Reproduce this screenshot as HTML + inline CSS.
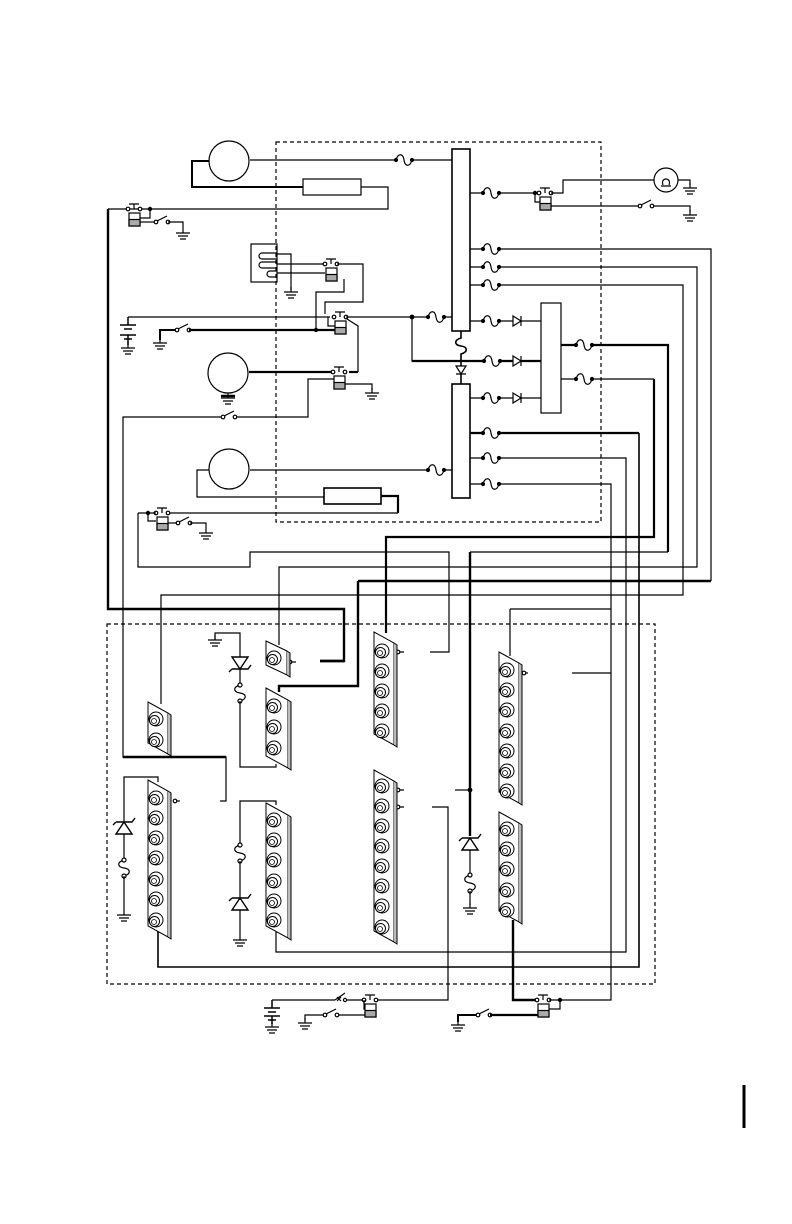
<!DOCTYPE html>
<html><head><meta charset="utf-8"><style>html,body{margin:0;padding:0;background:#fff}svg{display:block}</style></head>
<body>
<svg width="792" height="1224" viewBox="0 0 792 1224" xmlns="http://www.w3.org/2000/svg" fill="none" stroke="#000" stroke-width="1.2">
<defs>
<g id="hole"><circle r="7" fill="#fff"/><circle cx="-1.5" cy="1.5" r="5" fill="#fff"/><circle cx="-2" cy="2" r="2.5" fill="#fff" stroke-width="0.8"/></g>
<g id="fuse"><path d="M0,0 c2,-7 7,-7 8,0 s6,7 8,0"/><circle cx="0" cy="0" r="1.5" fill="#000"/><circle cx="16" cy="0" r="1.5" fill="#000"/></g>
<g id="relay"><circle cx="-6" cy="0" r="1.8" fill="#fff"/><circle cx="6" cy="0" r="1.8" fill="#fff"/><path d="M-5,-5 H5 M0,-5 V0"/><rect x="-5" y="4" width="11" height="13" fill="#fff"/><rect x="-5" y="10.5" width="11" height="6.5" fill="#aaa"/></g>
<g id="gnd"><path d="M0,0 V5 M-7,5 H7 M-5,8 H5 M-3,11 H3"/></g>
<g id="diode"><path d="M0,-5 L8,0 L0,5 Z M8,-5 V5" fill="#fff"/></g>
<g id="tvsD"><path d="M-8,-12 H8 L0,0 Z" fill="#fff" stroke-width="1.4"/><path d="M-8,0 H8 l3,-4 M-8,0 l-3,3" stroke-width="1.4"/></g>
<g id="tvsU"><path d="M-8,0 H8 L0,-12 Z" fill="#fff" stroke-width="1.4"/><path d="M-8,-12 H8 l3,-4 M-8,-12 l-3,3" stroke-width="1.4"/></g>
<g id="fusev"><path d="M0,0 c-7,2 -7,7 0,8 s7,6 0,8"/><circle cx="0" cy="0" r="2" fill="#fff"/><circle cx="0" cy="16" r="2" fill="#fff"/></g>
<g id="sw"><circle cx="0" cy="0" r="1.8" fill="#fff"/><circle cx="12" cy="0" r="1.8" fill="#fff"/><path d="M1,-1 L11,-6"/></g>
</defs>

<rect x="276" y="142" width="325" height="380" stroke-dasharray="4,3"/>
<rect x="107" y="624" width="548" height="360" stroke-dasharray="4,3"/>

<rect x="452" y="149" width="18" height="182" fill="#fff" stroke-width="1.6"/>
<rect x="452" y="384" width="18" height="114" fill="#fff" stroke-width="1.6"/>
<rect x="541" y="303" width="20" height="110" fill="#fff"/>

<circle cx="229" cy="161" r="20"/>
<path d="M250,160 H396 M412,160 H452"/><use href="#fuse" x="396" y="160"/>
<path d="M209,161 H192 V187 H303" stroke-width="2"/>
<rect x="303" y="179" width="58" height="16"/>
<path d="M361,187 H388 V209 H108"/>
<path d="M108,209 V609 H344 V661 H320" stroke-width="2.4"/>
<use href="#relay" x="134" y="209"/>
<circle cx="150" cy="209" r="1.6" fill="#000"/><path d="M150,209 V218 H140"/>
<path d="M140,222 H156"/><use href="#sw" x="156" y="222"/><path d="M168,222 H183 V228"/><use href="#gnd" x="183" y="228"/>

<rect x="251" y="244" width="26" height="38"/>
<path d="M277,253 H262 a3,3 0 0 0 0,6 H277 M277,262 H262 a3,3 0 0 0 0,6 H277 M277,271 H270 a3,3 0 0 0 0,6 H277"/>
<path d="M277,254 H291 V282 M277,264 H325 M277,273 H325 M291,254 V290"/>
<use href="#gnd" x="291" y="287"/>
<use href="#relay" x="331" y="264"/>
<path d="M337,264 H363 V302 H325 V314"/>
<path d="M344,279 V292 H316 V330"/>

<path d="M128,317 H330"/>
<path d="M120,325 H136 M124,329 H132 M128,317 V325 M128,335 V345 M120,335 H136 M124,339 H132" stroke-width="1.5"/>
<use href="#gnd" x="128" y="343"/>
<use href="#relay" x="340" y="317"/>
<path d="M328,317 V326 H335"/>
<path d="M160,340 V330 H177" stroke-width="2"/><use href="#gnd" x="160" y="338"/>
<use href="#sw" x="177" y="330"/>
<path d="M189,330 H335" stroke-width="2.2"/><circle cx="316" cy="330" r="1.6" fill="#000"/>
<path d="M346,317 H412 V361 H452 M412,317 H428 M444,317 H452"/>
<circle cx="412" cy="317" r="1.8" fill="#000"/><use href="#fuse" x="428" y="317"/>
<path d="M347,319 L358,326 V372" />
<path d="M249,372 H333" stroke-width="2.2"/><path d="M349,372 H358" stroke-width="2.2"/>
<path d="M412,361 H484" stroke-width="2.2"/>

<circle cx="228" cy="373" r="20"/>
<use href="#gnd" x="228" y="393"/><path d="M221,396 H235" stroke-width="2.5"/>
<use href="#relay" x="339" y="372"/>
<path d="M345,384 H372 V390"/><use href="#gnd" x="372" y="388"/>
<path d="M334,379 H308 V417 H236 M222,417 H123 V757 H226 V801 H220"/>
<use href="#sw" x="223" y="417"/>
<path d="M123,757 H226" stroke-width="2.4"/>

<circle cx="229" cy="469" r="20"/>
<path d="M250,470 H428 M444,470 H452"/><use href="#fuse" x="428" y="470"/>
<path d="M209,470 H197 V497 H324"/>
<rect x="324" y="488" width="57" height="16" fill="#fff" stroke-width="1.6"/>
<path d="M381,496 H398 V513" stroke-width="2.2"/>
<path d="M398,513 H166"/>
<use href="#relay" x="162" y="513"/>
<circle cx="148" cy="513" r="1.6" fill="#000"/>
<path d="M148,513 H156 M148,513 V521 H156 M138,513 H148 M138,513 V567 H250 V552 H449 V652 H430"/>
<path d="M168,523 H178"/><use href="#sw" x="178" y="523"/><path d="M190,523 H206 V528"/><use href="#gnd" x="206" y="528"/>

<path d="M470,193 H483 M499,193 H535"/><use href="#fuse" x="483" y="193"/>
<use href="#relay" x="545" y="193"/>
<circle cx="535" cy="193" r="1.6" fill="#000"/>
<path d="M535,193 V202 H540 M551,193 H563 V180 H654 M678,180 H690 V185"/>
<circle cx="666" cy="180" r="12"/><path d="M661,186 H671 M663,185 c-3,-8 9,-8 6,0"/>
<use href="#gnd" x="690" y="183"/>
<path d="M551,206 H640 M652,206 H690 V212"/><use href="#sw" x="640" y="206"/><use href="#gnd" x="690" y="210"/>

<path d="M470,249 H483 M499,249 H711 V581"/><use href="#fuse" x="483" y="249"/>
<path d="M470,267 H483 M499,267 H697 V567 H279 V645"/><use href="#fuse" x="483" y="267"/>
<path d="M470,285 H483 M499,285 H683 V595 H161 V704"/><use href="#fuse" x="483" y="285"/>
<path d="M470,321 H483 M499,321 H513 M521,321 H541"/><use href="#fuse" x="483" y="321"/><use href="#diode" x="513" y="321"/>
<use href="#fuse" x="484" y="361"/><path d="M500,361 H513 M521,361 H541" stroke-width="2.2"/><use href="#diode" x="513" y="361"/>
<path d="M470,398 H483 M499,398 H513 M521,398 H541"/><use href="#fuse" x="483" y="398"/><use href="#diode" x="513" y="398"/>

<path d="M461,331 V338 c-7,2 -7,7 0,8 s7,6 0,8 V384" stroke-width="1.6"/>
<path d="M456,366 H466 L461,374 Z M456,374 H466" fill="#fff"/>

<path d="M561,345 H576 M592,345 H668 V552" stroke-width="2.2"/><use href="#fuse" x="576" y="345"/>
<path d="M561,379 H576 M592,379 H654"/><use href="#fuse" x="576" y="379"/>
<path d="M654,379 V537 H386 V633" stroke-width="2.2"/>
<path d="M470,552 H668"/>
<path d="M470,552 V790 M470,790 V836" stroke-width="2.4"/>

<path d="M470,433 H483 M499,433 H639" stroke-width="2.2"/><use href="#fuse" x="483" y="433"/>
<path d="M639,433 V967 H158 V928" stroke-width="1.6"/>
<path d="M470,458 H483 M499,458 H626 V952 H276 V928"/><use href="#fuse" x="483" y="458"/>
<path d="M470,484 H483 M499,484 H611 V1000 H560"/><use href="#fuse" x="483" y="484"/>
<path d="M510,609 H611 M510,609 V656"/>
<path d="M572,673 H611"/>

<path d="M358,581 H711 M358,581 V686 H279 V692" stroke-width="2.4"/>

<path d="M290,662 H296"/><circle cx="290" cy="662" r="1.8" fill="#fff"/>
<path d="M320,661 H344" stroke-width="2.6"/>
<path d="M398,652 H404 M397,790 H404 M397,807 H404"/><circle cx="398" cy="652" r="1.8" fill="#fff"/><circle cx="398" cy="790" r="1.8" fill="#fff"/><circle cx="398" cy="807" r="1.8" fill="#fff"/>
<path d="M455,790 H470"/><circle cx="470" cy="790" r="1.8" fill="#000"/>
<path d="M432,807 H448 V1000 H378"/>
<path d="M524,673 H528"/><circle cx="524" cy="673" r="1.8" fill="#fff"/>
<path d="M175,801 H180"/><circle cx="175" cy="801" r="1.8" fill="#fff"/>

<path d="M215,640 V633 H240 V657"/><use href="#gnd" x="215" y="635"/>
<use href="#tvsD" x="240" y="669"/><path d="M240,669 V685"/>
<use href="#fusev" x="240" y="685"/><path d="M240,701 V767 H276 V764"/>

<path d="M158,782 V777 H124 V822"/><use href="#tvsU" x="124" y="834"/><path d="M124,834 V860"/>
<use href="#fusev" x="124" y="860"/><path d="M124,876 V910"/><use href="#gnd" x="124" y="910"/>

<path d="M276,805 V801 H240 V845"/><use href="#fusev" x="240" y="845"/><path d="M240,861 V898"/>
<use href="#tvsU" x="240" y="910"/><path d="M240,910 V935"/><use href="#gnd" x="240" y="935"/>

<use href="#tvsU" x="470" y="850"/><path d="M470,850 V875"/><use href="#fusev" x="470" y="875"/><path d="M470,891 V905"/><use href="#gnd" x="470" y="903"/>

<g stroke-width="1">
<path d="M266,641 L287,651 L287,675 L266,665 Z" fill="#fff"/><path d="M287,651 L290,653 L290,677 L287,675" fill="#bbb"/>
<use href="#hole" x="274" y="658"/>
<path d="M266,688 L288,700 L288,768 L266,756 Z" fill="#fff"/><path d="M288,700 L291,702 L291,770 L288,768" fill="#bbb"/>
<use href="#hole" x="274" y="706"/><use href="#hole" x="274" y="727"/><use href="#hole" x="274" y="748"/>
<path d="M374,632 L394,643 L394,745 L374,734 Z" fill="#fff"/><path d="M394,643 L397,645 L397,747 L394,745" fill="#bbb"/>
<use href="#hole" x="382" y="651"/><use href="#hole" x="382" y="671"/><use href="#hole" x="382" y="691"/><use href="#hole" x="382" y="711"/><use href="#hole" x="382" y="731"/>
<path d="M148,702 L168,713 L168,754 L148,743 Z" fill="#fff"/><path d="M168,713 L171,715 L171,756 L168,754" fill="#bbb"/>
<use href="#hole" x="156" y="719"/><use href="#hole" x="156" y="740"/>
<path d="M148,780 L168,791 L168,937 L148,926 Z" fill="#fff"/><path d="M168,791 L171,793 L171,939 L168,937" fill="#bbb"/>
<use href="#hole" x="156" y="798"/><use href="#hole" x="156" y="818"/><use href="#hole" x="156" y="838"/><use href="#hole" x="156" y="858"/><use href="#hole" x="156" y="879"/><use href="#hole" x="156" y="899"/><use href="#hole" x="156" y="920"/>
<path d="M266,803 L288,815 L288,938 L266,926 Z" fill="#fff"/><path d="M288,815 L291,817 L291,940 L288,938" fill="#bbb"/>
<use href="#hole" x="274" y="820"/><use href="#hole" x="274" y="840"/><use href="#hole" x="274" y="860"/><use href="#hole" x="274" y="881"/><use href="#hole" x="274" y="901"/><use href="#hole" x="274" y="920"/>
<path d="M374,770 L394,781 L394,942 L374,931 Z" fill="#fff"/><path d="M394,781 L397,783 L397,944 L394,942" fill="#bbb"/>
<use href="#hole" x="382" y="786"/><use href="#hole" x="382" y="806"/><use href="#hole" x="382" y="826"/><use href="#hole" x="382" y="846"/><use href="#hole" x="382" y="866"/><use href="#hole" x="382" y="886"/><use href="#hole" x="382" y="906"/><use href="#hole" x="382" y="927"/>
<path d="M499,652 L519,663 L519,803 L499,792 Z" fill="#fff"/><path d="M519,663 L522,665 L522,805 L519,803" fill="#bbb"/>
<use href="#hole" x="507" y="670"/><use href="#hole" x="507" y="690"/><use href="#hole" x="507" y="710"/><use href="#hole" x="507" y="731"/><use href="#hole" x="507" y="751"/><use href="#hole" x="507" y="771"/><use href="#hole" x="507" y="791"/>
<path d="M499,812 L519,823 L519,922 L499,911 Z" fill="#fff"/><path d="M519,823 L522,825 L522,924 L519,922" fill="#bbb"/>
<use href="#hole" x="507" y="829"/><use href="#hole" x="507" y="849"/><use href="#hole" x="507" y="869"/><use href="#hole" x="507" y="890"/><use href="#hole" x="507" y="910"/>
</g>
<path d="M513,920 V1000 H537" stroke-width="2.4"/>

<path d="M272,1000 H335 M345,1000 H364"/>
<path d="M264,1008 H280 M268,1012 H276 M272,1000 V1008 M272,1016 V1024 M264,1016 H280 M268,1020 H276" stroke-width="1.5"/>
<use href="#gnd" x="272" y="1022"/>
<path d="M335,1000 L345,993 M337,997 l4,4 M341,997 l-4,4"/><circle cx="345" cy="1000" r="1.6" fill="#fff"/>
<use href="#relay" x="370" y="1000"/><path d="M364,1000 V1009 H365"/>
<path d="M305,1020 V1015 H325 M337,1015 H365"/><use href="#sw" x="325" y="1015"/><use href="#gnd" x="305" y="1018"/>
<path d="M458,1022 V1015 H478" stroke-width="2"/><use href="#gnd" x="458" y="1020"/><use href="#sw" x="478" y="1015"/>
<path d="M490,1015 H538" stroke-width="2.2"/>
<use href="#relay" x="543" y="1000"/>
<path d="M549,1000 H560 V1009 H549"/><circle cx="560" cy="1000" r="1.6" fill="#000"/>

<path d="M744,1085 V1128" stroke-width="3"/>
</svg>
</body></html>
